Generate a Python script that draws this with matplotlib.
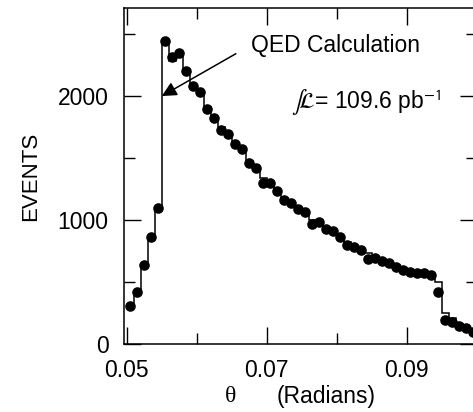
import numpy as np
import matplotlib
matplotlib.use('Agg')
import matplotlib.pyplot as plt
from matplotlib.ticker import MultipleLocator

plt.rcParams['font.family'] = ['Liberation Sans', 'DejaVu Sans']
plt.rcParams['mathtext.fontset'] = 'stixsans'

# binning: 1 mrad bins from 0.05 to 0.10
bin_start = 0.05
bin_width = 0.001
n_bins = 50

# measured events per bin (dots)
events = [306, 422, 637, 865, 1094, 2446, 2312, 2349, 2204, 2081,
          2035, 1893, 1820, 1728, 1694, 1613, 1570, 1462, 1417, 1296,
          1296, 1237, 1161, 1140, 1086, 1062, 970, 986, 925, 914,
          860, 798, 785, 758, 683, 691, 672, 651, 624, 597,
          583, 570, 575, 556, 422, 194, 180, 145, 127, 99]

# QED calculation (histogram)
qed = [310, 420, 640, 870, 1100, 2430, 2280, 2330, 2200, 2090,
       2020, 1910, 1830, 1750, 1680, 1620, 1560, 1480, 1420, 1340,
       1290, 1240, 1180, 1130, 1090, 1050, 1000, 970, 930, 900,
       860, 820, 790, 760, 735, 705, 680, 660, 635, 612,
       592, 578, 566, 548, 500, 250, 207, 165, 130, 100]

edges = bin_start + bin_width * np.arange(n_bins + 1)
centers = edges[:-1] + bin_width / 2

fig = plt.figure(figsize=(4.73, 4.12), dpi=100)
ax = fig.add_axes([0.2622, 0.165, 0.7457, 0.8155])

ax.stairs(qed, edges, color='black', linewidth=1.1, baseline=None, zorder=2)
ax.plot(centers, events, 'o', color='black', markersize=6.6, zorder=3)

ax.set_xlim(0.0496, 0.1)
ax.set_ylim(0, 2710)

ax.set_xticks([0.05, 0.07, 0.09])
ax.set_xticklabels(['0.05', '0.07', '0.09'])
ax.xaxis.set_minor_locator(MultipleLocator(0.01))
ax.set_yticks([0, 1000, 2000])
ax.yaxis.set_minor_locator(MultipleLocator(500))

ax.tick_params(which='both', direction='in', top=True, right=True,
               labelsize=16.5, width=1)
ax.tick_params(which='major', length=12)
ax.tick_params(which='minor', length=8)
ax.tick_params(axis='x', pad=11)
ax.tick_params(axis='y', pad=11)
for s in ax.spines.values():
    s.set_linewidth(1.1)

ax.set_ylabel('EVENTS', fontsize=16, labelpad=12)

# x label: theta in serif, then units
ax.text(0.302, -0.155, 'θ', transform=ax.transAxes, fontsize=17,
        family='Liberation Serif', ha='center', va='center')
ax.text(0.572, -0.155, '(Radians)', transform=ax.transAxes, fontsize=16.5,
        ha='center', va='center')

ax.annotate('QED Calculation', xy=(0.055, 2000), xytext=(0.0677, 2410),
            fontsize=16.5, ha='left', va='center',
            arrowprops=dict(arrowstyle='-|>', color='black', lw=1.1,
                            mutation_scale=22, shrinkA=10, shrinkB=0,
                            relpos=(0, 0.5)))

ax.text(0.0735, 1950, r'$\int\!\mathcal{L}$= 109.6 pb$^{-1}$',
        fontsize=16.5, ha='left', va='center')

fig.savefig('out.png', dpi=100)
